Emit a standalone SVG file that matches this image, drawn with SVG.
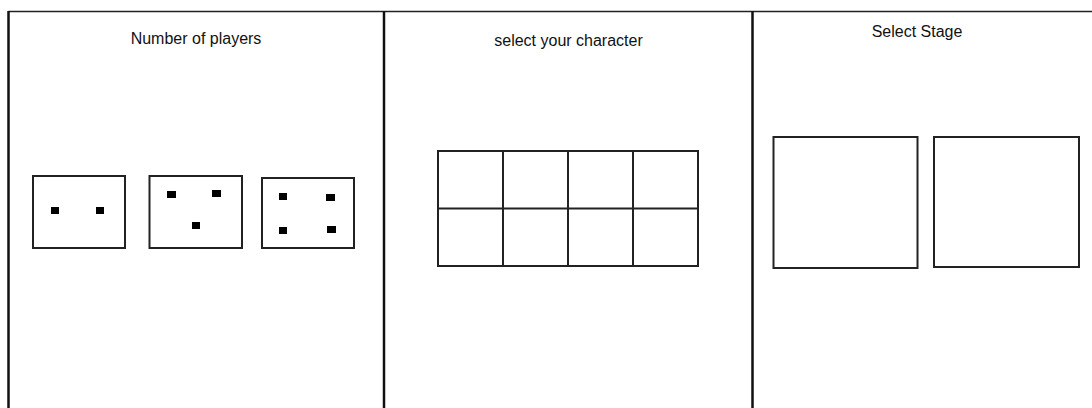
<svg xmlns="http://www.w3.org/2000/svg" width="1092" height="408" viewBox="0 0 1092 408">
<style>
.frame{fill:none;stroke:#222;stroke-width:1.5}
.div{fill:none;stroke:#111;stroke-width:2.5}
.box{fill:#fff;stroke:#222;stroke-width:2}
.dot{fill:#000}
.t{font-family:"Liberation Sans",Arial,sans-serif;font-size:16px;fill:#111;text-anchor:middle}
</style>
<rect width="1092" height="408" fill="#fff"/>
<g id="frame">
<line class="frame" x1="8.5" y1="11.5" x2="1092" y2="11.5"/>
<line class="div" x1="8.5" y1="11" x2="8.5" y2="408"/>
<line class="div" x1="384" y1="11" x2="384" y2="408"/>
<line class="div" x1="752.5" y1="11" x2="752.5" y2="408"/>
</g>
<g id="panel-players">
<text class="t" x="196" y="44">Number of players</text>
<g id="p2">
<rect class="box" x="33" y="176" width="92" height="72"/>
<rect class="dot" x="51" y="207" width="8" height="7"/>
<rect class="dot" x="96" y="207" width="8" height="7"/>
</g>
<g id="p3">
<rect class="box" x="149.5" y="176" width="92.5" height="72"/>
<rect class="dot" x="167" y="191" width="9" height="7"/>
<rect class="dot" x="212" y="190" width="9" height="7"/>
<rect class="dot" x="192" y="222" width="8" height="7"/>
</g>
<g id="p4">
<rect class="box" x="262" y="178" width="92" height="70"/>
<rect class="dot" x="279" y="193" width="8" height="7"/>
<rect class="dot" x="326" y="194" width="9" height="7"/>
<rect class="dot" x="279" y="227" width="8" height="7"/>
<rect class="dot" x="327" y="226" width="9" height="7"/>
</g>
</g>
<g id="panel-character">
<text class="t" x="568.5" y="46">select your character</text>
<g id="grid">
<rect class="box" x="438" y="151" width="260" height="115"/>
<line class="box" x1="438" y1="208.5" x2="698" y2="208.5"/>
<line class="box" x1="503" y1="151" x2="503" y2="266"/>
<line class="box" x1="568" y1="151" x2="568" y2="266"/>
<line class="box" x1="633" y1="151" x2="633" y2="266"/>
</g>
</g>
<g id="panel-stage">
<text class="t" x="917" y="37">Select Stage</text>
<rect id="stage1" class="box" x="773.5" y="137" width="144" height="131"/>
<rect id="stage2" class="box" x="934" y="137" width="145" height="130"/>
</g>
</svg>
